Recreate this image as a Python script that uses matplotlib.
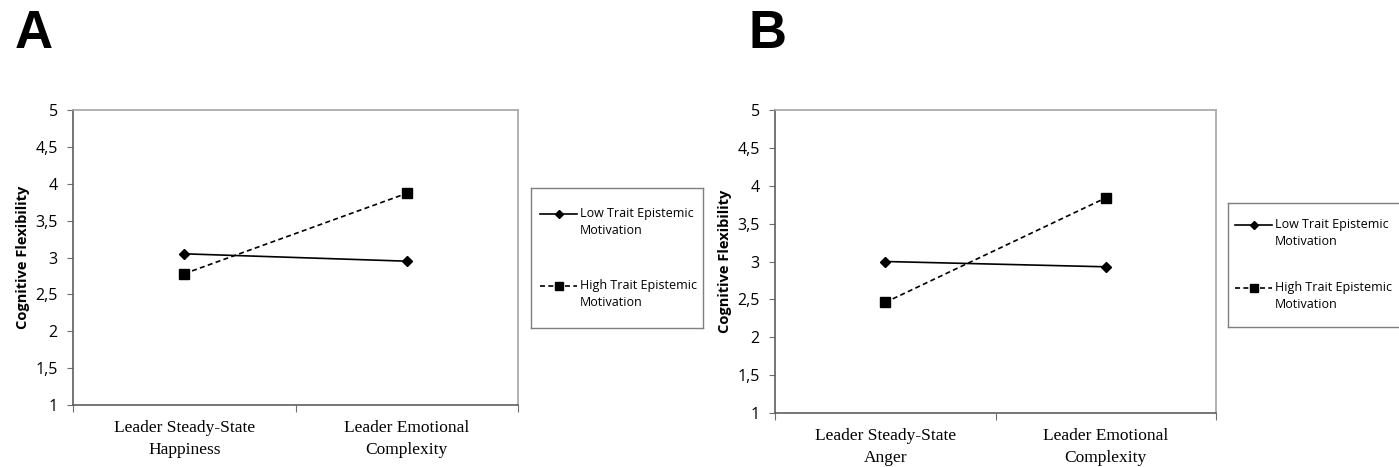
import matplotlib.pyplot as plt

# data
conditions_a = ['Leader Steady-State\nHappiness', 'Leader Emotional\nComplexity']
conditions_b = ['Leader Steady-State\nAnger', 'Leader Emotional\nComplexity']
low_a = [3.05, 2.95]
high_a = [2.78, 3.87]
low_b = [3.00, 2.93]
high_b = [2.46, 3.84]
yticks = [1, 1.5, 2, 2.5, 3, 3.5, 4, 4.5, 5]
ytick_labels = ['1', '1,5', '2', '2,5', '3', '3,5', '4', '4,5', '5']
series_names = ['Low Trait Epistemic\nMotivation', 'High Trait Epistemic\nMotivation']

W, H = 1399, 467
fig = plt.figure(figsize=(W / 100, H / 100), dpi=100)

sans = ['Open Sans', 'DejaVu Sans']
serif = ['Liberation Serif', 'DejaVu Serif']
styles = [dict(color='black', lw=1.2, ls='-', marker='D', ms=5),
          dict(color='black', lw=1.2, ls=(0, (3, 2)), marker='s', ms=6.5)]


def px(x0, y0, x1, y1):
    # pixel box (top-left origin) -> figure rect
    return [x0 / W, 1 - y1 / H, (x1 - x0) / W, (y1 - y0) / H]


def panel(rect, cats, low, high):
    ax = fig.add_axes(rect)
    xs = [0.5, 1.5]
    ax.plot(xs, low, **styles[0])
    ax.plot(xs, high, **styles[1])
    ax.set_xlim(0, 2)
    ax.set_ylim(1, 5)
    ax.set_yticks(yticks)
    ax.set_yticklabels(ytick_labels, fontfamily=sans, fontsize=11.5)
    ax.set_xticks([0, 1, 2])
    ax.set_xticklabels(['', '', ''])
    ax.set_xticks(xs, minor=True)
    ax.set_xticklabels(cats, minor=True, fontfamily=serif, fontsize=12.5,
                       linespacing=1.45)
    ax.tick_params(axis='x', which='minor', length=0, pad=11)
    ax.tick_params(axis='x', which='major', length=5, color='#6f6f6f')
    ax.tick_params(axis='y', length=4, color='#6f6f6f', pad=7)
    for s in ['left', 'bottom']:
        ax.spines[s].set_color('#5f5f5f')
        ax.spines[s].set_linewidth(1.2)
    for s in ['top', 'right']:
        ax.spines[s].set_color('#a6a6a6')
        ax.spines[s].set_linewidth(1.2)
    ax.set_ylabel('Cognitive Flexibility', fontfamily=sans, fontweight='bold',
                  fontsize=10.5, labelpad=4)
    return ax


def legend_box(box, hx0, hx1, rows):
    # hand-built legend: box in pixels, handle x-span, first-line y of each entry
    lax = fig.add_axes(px(*box))
    lax.set_xlim(box[0], box[2])
    lax.set_ylim(box[3], box[1])
    lax.set_xticks([])
    lax.set_yticks([])
    for s in lax.spines.values():
        s.set_color('#7f7f7f')
        s.set_linewidth(1.0)
    for st, name, y in zip(styles, series_names, rows):
        lax.plot([hx0, hx1], [y, y], color=st['color'], lw=st['lw'], ls=st['ls'])
        lax.plot([(hx0 + hx1) / 2], [y], color='black', marker=st['marker'],
                 ms=st['ms'] - 0.5, ls='none')
        lax.text(hx1 + 3, y - 7, name, fontfamily=sans, fontsize=9.0,
                 va='top', ha='left', linespacing=1.38)


panel(px(73, 110, 518, 405), conditions_a, low_a, high_a)
panel(px(775, 110, 1216, 413), conditions_b, low_b, high_b)

legend_box((531, 188, 703, 328), 540, 577, [214, 286])
legend_box((1228, 203, 1405, 327), 1235, 1272, [225, 288])

fig.text(15 / W, 1 - 48 / H, 'A', fontsize=38, fontweight='bold',
         fontfamily=['Liberation Sans', 'DejaVu Sans'], va='baseline')
fig.text(748 / W, 1 - 48 / H, 'B', fontsize=38, fontweight='bold',
         fontfamily=['Liberation Sans', 'DejaVu Sans'], va='baseline')

fig.savefig('out.png', dpi=100)
